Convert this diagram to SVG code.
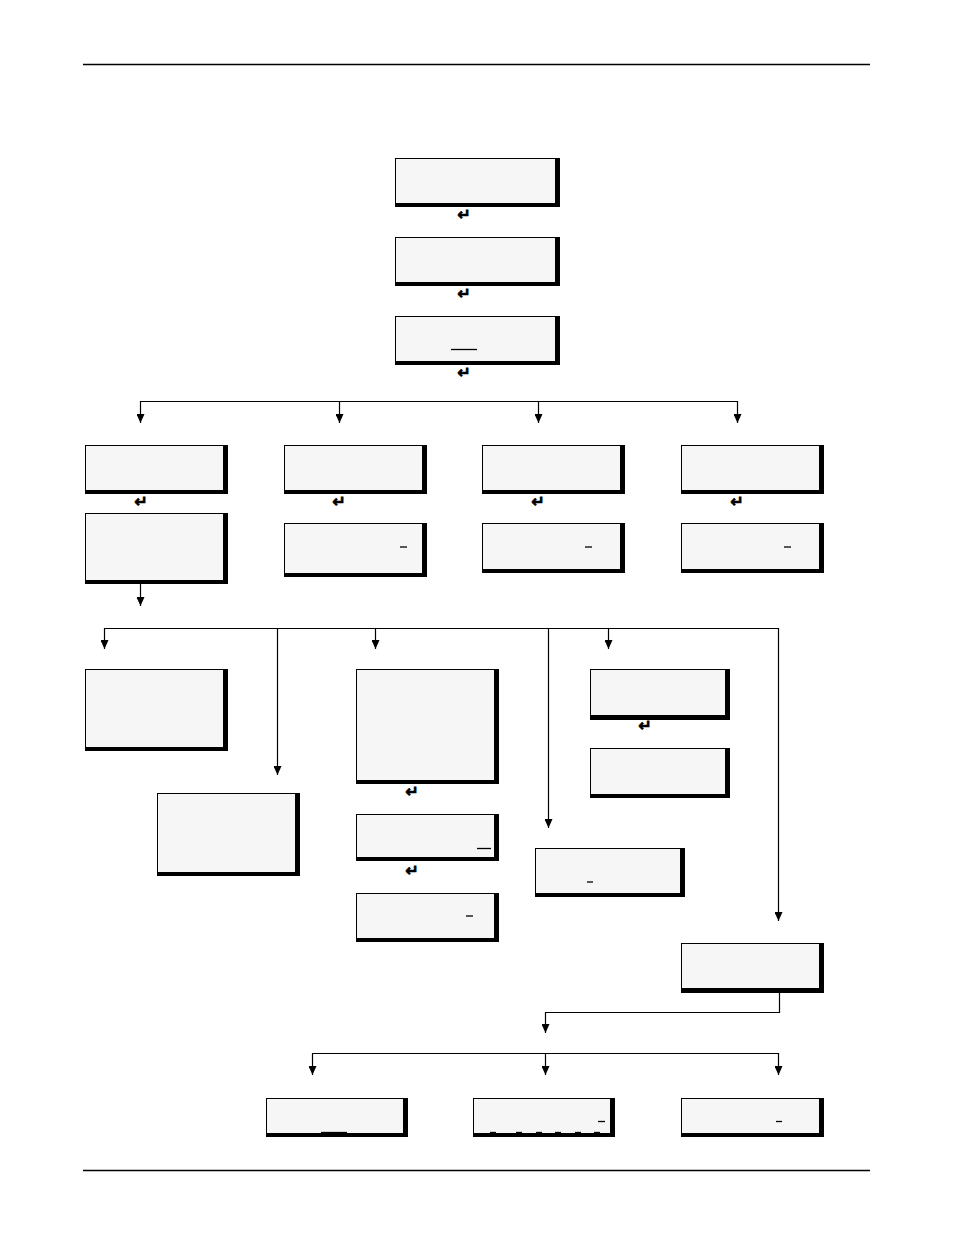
<svg xmlns="http://www.w3.org/2000/svg" width="954" height="1235" viewBox="0 0 954 1235">
<style>
.sh{fill:#000}
.bx{fill:#f6f6f6;stroke:#000;stroke-width:1}
.ln{fill:none;stroke:#000;stroke-width:1.2}
.ar{fill:none;stroke:#000;stroke-width:1.2;marker-end:url(#ah)}
.us{stroke:#000;stroke-width:1.3}
.ent{font-family:"DejaVu Sans",sans-serif;font-weight:bold;font-size:16px;text-anchor:middle;stroke:#000;stroke-width:0.7}
.rule{stroke:#000;stroke-width:1.3}
</style>
<defs>
<marker id="ah" viewBox="0 0 9 8" refX="9" refY="4" markerWidth="9" markerHeight="8" markerUnits="userSpaceOnUse" orient="auto">
<path d="M0,0 L9,4 L0,8 z" fill="#000"/>
</marker>
</defs>
<rect width="954" height="1235" fill="#fff"/>
<line class="rule" x1="83" y1="64.5" x2="870" y2="64.5"/>
<line class="rule" x1="83" y1="1170.5" x2="870" y2="1170.5"/>

<g id="connectors">
<path class="ln" d="M140,401.5 H737.5"/>
<path class="ar" d="M140.5,401 V423"/>
<path class="ar" d="M339.5,401 V423"/>
<path class="ar" d="M538.5,401 V423"/>
<path class="ar" d="M737.5,401 V423"/>
<path class="ar" d="M140.5,584 V606"/>
<path class="ln" d="M104,628.5 H778.5"/>
<path class="ar" d="M104.5,628 V649"/>
<path class="ar" d="M277.5,628 V775"/>
<path class="ar" d="M375.5,628 V649"/>
<path class="ar" d="M548.5,628 V828"/>
<path class="ar" d="M608.5,628 V649"/>
<path class="ar" d="M778.5,628 V921"/>
<path class="ar" d="M779.5,993 V1012.5 H545.5 V1033"/>
<path class="ln" d="M312,1053.5 H778.5"/>
<path class="ar" d="M312.5,1053 V1075"/>
<path class="ar" d="M545.5,1053 V1075"/>
<path class="ar" d="M778.5,1053 V1075"/>
</g>

<g id="n1"><rect class="sh" x="395" y="158" width="165" height="49"/><rect class="bx" x="395.5" y="158.5" width="160" height="45"/></g>
<g id="n2"><rect class="sh" x="395" y="237" width="165" height="49"/><rect class="bx" x="395.5" y="237.5" width="160" height="45"/></g>
<g id="n3"><rect class="sh" x="395" y="316" width="165" height="49"/><rect class="bx" x="395.5" y="316.5" width="160" height="45"/><line class="us" x1="451" y1="349.5" x2="477" y2="349.5"/></g>
<g id="enter1"><text class="ent" x="464" y="220">↵</text><text class="ent" x="464" y="299">↵</text><text class="ent" x="464" y="378">↵</text></g>

<g id="a1"><rect class="sh" x="85" y="445" width="143" height="49"/><rect class="bx" x="85.5" y="445.5" width="138" height="45"/><text class="ent" x="141" y="507">↵</text></g>
<g id="a2"><rect class="sh" x="85" y="513" width="143" height="71"/><rect class="bx" x="85.5" y="513.5" width="138" height="67"/></g>
<g id="b1"><rect class="sh" x="284" y="445" width="143" height="49"/><rect class="bx" x="284.5" y="445.5" width="138" height="45"/><text class="ent" x="339" y="507">↵</text></g>
<g id="b2"><rect class="sh" x="284" y="523" width="143" height="54"/><rect class="bx" x="284.5" y="523.5" width="138" height="50"/><line class="us" x1="400" y1="547" x2="407" y2="547"/></g>
<g id="c1"><rect class="sh" x="482" y="445" width="143" height="49"/><rect class="bx" x="482.5" y="445.5" width="138" height="45"/><text class="ent" x="538" y="507">↵</text></g>
<g id="c2"><rect class="sh" x="482" y="523" width="143" height="50"/><rect class="bx" x="482.5" y="523.5" width="138" height="46"/><line class="us" x1="585" y1="547" x2="592" y2="547"/></g>
<g id="d1"><rect class="sh" x="681" y="445" width="143" height="49"/><rect class="bx" x="681.5" y="445.5" width="138" height="45"/><text class="ent" x="737" y="507">↵</text></g>
<g id="d2"><rect class="sh" x="681" y="523" width="143" height="50"/><rect class="bx" x="681.5" y="523.5" width="138" height="46"/><line class="us" x1="784" y1="547" x2="791" y2="547"/></g>

<g id="e"><rect class="sh" x="85" y="669" width="143" height="82"/><rect class="bx" x="85.5" y="669.5" width="138" height="78"/></g>
<g id="f"><rect class="sh" x="157" y="793" width="143" height="83"/><rect class="bx" x="157.5" y="793.5" width="138" height="79"/></g>
<g id="g1"><rect class="sh" x="356" y="669" width="143" height="115"/><rect class="bx" x="356.5" y="669.5" width="138" height="111"/><text class="ent" x="412" y="797">↵</text></g>
<g id="g2"><rect class="sh" x="356" y="814" width="143" height="47"/><rect class="bx" x="356.5" y="814.5" width="138" height="43"/><line class="us" x1="477" y1="848.5" x2="491" y2="848.5"/><text class="ent" x="412" y="876">↵</text></g>
<g id="g3"><rect class="sh" x="356" y="893" width="143" height="49"/><rect class="bx" x="356.5" y="893.5" width="138" height="45"/><line class="us" x1="466" y1="916" x2="473" y2="916"/></g>
<g id="h"><rect class="sh" x="535" y="848" width="150" height="49"/><rect class="bx" x="535.5" y="848.5" width="145" height="45"/><line class="us" x1="587" y1="882" x2="593" y2="882"/></g>
<g id="i1"><rect class="sh" x="590" y="669" width="140" height="51"/><rect class="bx" x="590.5" y="669.5" width="135" height="46"/><text class="ent" x="645" y="731">↵</text></g>
<g id="i2"><rect class="sh" x="590" y="748" width="140" height="50"/><rect class="bx" x="590.5" y="748.5" width="135" height="46"/></g>
<g id="j"><rect class="sh" x="681" y="943" width="143" height="50"/><rect class="bx" x="681.5" y="943.5" width="138" height="45"/></g>

<g id="k"><rect class="sh" x="266" y="1098" width="142" height="39"/><rect class="bx" x="266.5" y="1098.5" width="137" height="35"/><line class="us" x1="321" y1="1132.5" x2="347" y2="1132.5"/></g>
<g id="l"><rect class="sh" x="473" y="1098" width="142" height="39"/><rect class="bx" x="473.5" y="1098.5" width="137" height="35"/>
<line class="us" x1="490" y1="1132.5" x2="496" y2="1132.5"/><line class="us" x1="516" y1="1132.5" x2="522" y2="1132.5"/><line class="us" x1="536" y1="1132.5" x2="542" y2="1132.5"/><line class="us" x1="555" y1="1132.5" x2="561" y2="1132.5"/><line class="us" x1="575" y1="1132.5" x2="581" y2="1132.5"/><line class="us" x1="594" y1="1132.5" x2="600" y2="1132.5"/>
<line class="us" x1="598" y1="1121.5" x2="605" y2="1121.5"/></g>
<g id="m"><rect class="sh" x="681" y="1098" width="143" height="39"/><rect class="bx" x="681.5" y="1098.5" width="138" height="35"/><line class="us" x1="776" y1="1121.5" x2="782" y2="1121.5"/></g>
</svg>
